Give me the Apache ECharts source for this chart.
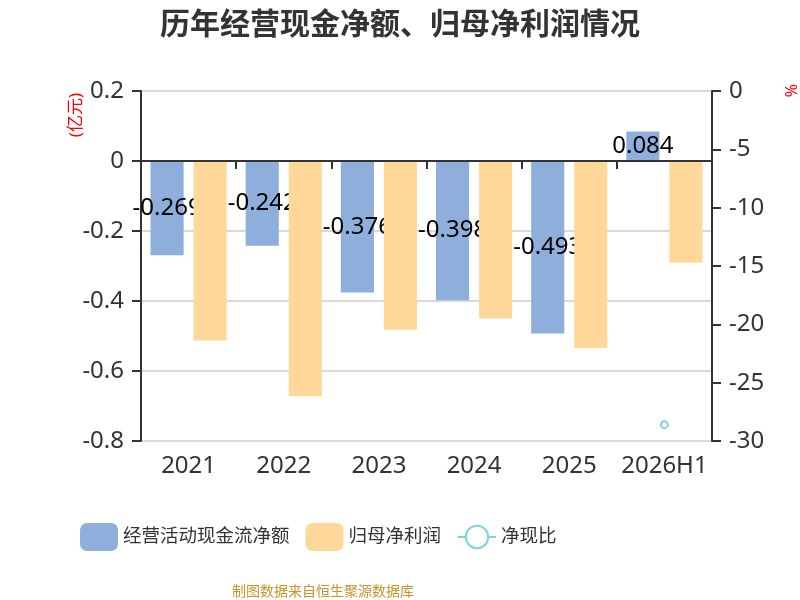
<!DOCTYPE html>
<html>
<head>
<meta charset="utf-8">
<script src="https://cdn.jsdelivr.net/npm/echarts@6/dist/echarts.min.js"></script>
<style>
  html, body { margin: 0; padding: 0; background: #fff; }
  #main { width: 800px; height: 600px; }
</style>
</head>
<body>
<div id="main"></div>
<script>
var years = ["2021", "2022", "2023", "2024", "2025", "2026H1"];
var cashFlow = [-0.269, -0.242, -0.376, -0.398, -0.493, 0.084];
var netProfit = [-0.513, -0.672, -0.482, -0.45, -0.534, -0.29];
var cashRatio = [null, null, null, null, null, -28.6];

var font = "'Noto Sans', 'Noto Sans CJK SC', sans-serif";

var chartDom = document.getElementById("main");
var myChart = echarts.init(chartDom);

var option = {
  textStyle: { fontFamily: font },
  title: [
    {
      text: "历年经营现金净额、归母净利润情况",
      left: "center",
      top: 5,
      textStyle: { fontSize: 30, fontWeight: "bold", color: "#333", fontFamily: font },
    },
    {
      text: "制图数据来自恒生聚源数据库",
      left: 227,
      top: 580,
      textStyle: { fontSize: 14, fontWeight: "normal", color: "#c8922d", fontFamily: font },
    },
  ],
  graphic: [
    {
      type: "text",
      left: 68,
      top: 93,
      rotation: Math.PI / 2,
      style: { text: "(亿元)", fill: "#ff0000", fontSize: 17, fontFamily: font },
    },
    {
      type: "text",
      left: 782,
      top: 84,
      rotation: -Math.PI / 2,
      style: { text: "%", fill: "#ff0000", fontSize: 16, fontFamily: font },
    },
  ],
  legend: {
    left: 75,
    top: 518,
    itemWidth: 38,
    itemHeight: 28,
    itemGap: 16,
    textStyle: { fontSize: 18.5, color: "#333", fontFamily: font },
    data: ["经营活动现金流净额", "归母净利润", "净现比"],
  },
  grid: {
    left: 141,
    right: 88,
    top: 91,
    bottom: 159,
  },
  xAxis: [
    {
      type: "category",
      data: years,
      position: "bottom",
      axisLine: { show: false, onZero: false },
      axisTick: { show: false },
      axisLabel: { fontSize: 24, color: "#333", margin: 13, interval: 0 },
    },
    {
      type: "category",
      data: years,
      position: "top",
      z: 10,
      axisLine: { onZero: true, lineStyle: { color: "#333", width: 2 } },
      axisTick: { show: true, inside: true, interval: 0, length: 8, lineStyle: { color: "#333", width: 2 } },
      axisLabel: { show: false, interval: 0 },
    },
  ],
  yAxis: [
    {
      type: "value",
      min: -0.8,
      max: 0.2,
      interval: 0.2,
      axisLine: { show: true, lineStyle: { color: "#333", width: 2 } },
      axisTick: { show: true, length: 9, lineStyle: { color: "#333", width: 2 } },
      axisLabel: { fontSize: 24, color: "#333", margin: 17 },
      splitLine: { lineStyle: { color: "#ccc", width: 1.5 } },
    },
    {
      type: "value",
      min: -30,
      max: 0,
      interval: 5,
      position: "right",
      axisLine: { show: true, lineStyle: { color: "#333", width: 2 } },
      axisTick: { show: true, length: 9, lineStyle: { color: "#333", width: 2 } },
      axisLabel: { fontSize: 24, color: "#333", margin: 17 },
      splitLine: { show: false },
    },
  ],
  series: [
    {
      name: "经营活动现金流净额",
      type: "bar",
      data: cashFlow,
      z: 2,
      barGap: "30%",
      barCategoryGap: "20%",
      itemStyle: { color: "#8eaedb" },
      label: {
        show: true,
        position: "inside",
        color: "#000",
        fontSize: 24,
        fontFamily: font,
        overflow: "none",
      },
    },
    {
      name: "归母净利润",
      type: "bar",
      data: netProfit,
      z: 3,
      barGap: "30%",
      barCategoryGap: "20%",
      itemStyle: { color: "#ffd899" },
    },
    {
      name: "净现比",
      type: "line",
      yAxisIndex: 1,
      data: cashRatio,
      symbol: "emptyCircle",
      symbolSize: 7,
      itemStyle: { color: "#7fd3dc" },
      lineStyle: { color: "#7fd3dc", width: 2 },
      z: 4,
    },
  ],
};

option && myChart.setOption(option);
</script>
</body>
</html>
